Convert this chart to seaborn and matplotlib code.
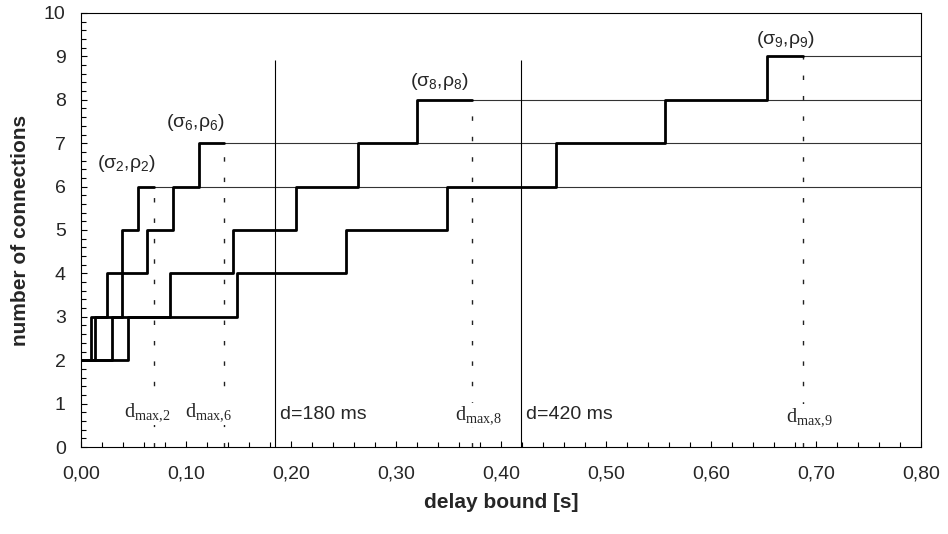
import numpy as np
import pandas as pd
import matplotlib
matplotlib.use('Agg')
import matplotlib.pyplot as plt
from matplotlib.ticker import MultipleLocator
import seaborn as sns

# step curves: delay bound [s] where the number of connections goes up, last point = d_max
x_s2 = [0.0, 0.0092, 0.0244, 0.0387, 0.0546, 0.0698]
y_s2 = [2, 3, 4, 5, 6, 6]
x_s6 = [0.0, 0.0133, 0.0387, 0.0632, 0.0873, 0.1127, 0.1359]
y_s6 = [2, 3, 4, 5, 6, 7, 7]
x_s8 = [0.0, 0.0298, 0.0848, 0.1444, 0.2044, 0.2641, 0.3197, 0.372]
y_s8 = [2, 3, 4, 5, 6, 7, 8, 8]
x_s9 = [0.0, 0.0451, 0.1489, 0.252, 0.349, 0.4524, 0.5562, 0.653, 0.6873]
y_s9 = [2, 3, 4, 5, 6, 7, 8, 9, 9]

curve_keys = ['2', '6', '8', '9']
d_max = [0.0698, 0.1359, 0.372, 0.6873]
n_max = [6, 7, 8, 9]

d_limits = [0.1844, 0.419]
d_limit_labels = ['d=180 ms', 'd=420 ms']

x_ticks = [0.0, 0.1, 0.2, 0.3, 0.4, 0.5, 0.6, 0.7, 0.8]
x_ticklabels = ['0,00', '0,10', '0,20', '0,30', '0,40', '0,50', '0,60', '0,70', '0,80']
y_ticks = list(range(11))

# annotation anchors (data coords)
sigma_pos = [(0.015, 6.54), (0.081, 7.47), (0.313, 8.42), (0.643, 9.39)]
dmax_pos = [(0.041, 0.80), (0.099, 0.80), (0.356, 0.74), (0.671, 0.70)]
dlim_pos = [(0.190, 0.74), (0.424, 0.74)]


def build_frame():
    parts = []
    for key, xs, ys in zip(curve_keys, [x_s2, x_s6, x_s8, x_s9], [y_s2, y_s6, y_s8, y_s9]):
        parts.append(pd.DataFrame({'delay': xs, 'conn': ys, 'curve': key}))
    return pd.concat(parts, ignore_index=True)


def main():
    sns.set_style('ticks')
    plt.rcParams['font.family'] = ['Liberation Sans', 'DejaVu Sans']
    plt.rcParams['mathtext.fontset'] = 'custom'
    plt.rcParams['mathtext.rm'] = 'Liberation Serif'
    plt.rcParams['mathtext.sf'] = 'Liberation Sans'
    plt.rcParams['mathtext.it'] = 'Liberation Sans'

    df = build_frame()

    fig = plt.figure(figsize=(9.48, 5.34), dpi=100)
    ax = fig.add_axes([0.0854, 0.1629, 0.8861, 0.8128])

    # thin continuation lines and dashed d_max markers
    ax.hlines(n_max, d_max, 0.8, color='#333333', lw=0.8, zorder=1)
    ax.vlines(d_max, 0, n_max, color='#222222', lw=1.0, linestyles=(0, (3.2, 11.5)), zorder=1)
    ax.vlines(d_limits, 0, 8.92, color='black', lw=0.8, zorder=1)

    sns.lineplot(data=df, x='delay', y='conn', units='curve', estimator=None,
                 color='black', lw=2.0, drawstyle='steps-post', sort=False,
                 legend=False, ax=ax, zorder=3)

    for key, (sx, sy) in zip(curve_keys, sigma_pos):
        ax.text(sx, sy, r'($\sigma_\mathsf{%s}$,$\rho_\mathsf{%s}$)' % (key, key),
                fontsize=14, ha='left', va='center')
    for key, (dx, dy) in zip(curve_keys, dmax_pos):
        ax.text(dx, dy, r'$\mathrm{d_{max{,}%s}}$' % key, fontsize=14.5,
                ha='left', va='center', zorder=2,
                bbox=dict(facecolor='white', edgecolor='none', pad=1))
    for lab, (lx, ly) in zip(d_limit_labels, dlim_pos):
        ax.text(lx, ly, lab, fontsize=14, ha='left', va='center')

    ax.set_xlim(0, 0.8)
    ax.set_ylim(0, 10)
    ax.set_xticks(x_ticks)
    ax.set_xticklabels(x_ticklabels)
    ax.set_yticks(y_ticks)
    ax.xaxis.set_minor_locator(MultipleLocator(0.02))
    ax.yaxis.set_minor_locator(MultipleLocator(0.2))
    ax.tick_params(which='both', direction='in', color='black', labelsize=14)
    ax.tick_params(which='major', length=4, width=0.8)
    ax.tick_params(which='minor', length=3.5, width=0.8)
    ax.tick_params(axis='x', which='major', pad=13)
    ax.tick_params(axis='y', which='major', pad=11)
    for s in ax.spines.values():
        s.set_color('black')
        s.set_linewidth(0.8)

    ax.set_xlabel('delay bound [s]', fontsize=15, fontweight='bold', labelpad=8)
    ax.set_ylabel('number of connections', fontsize=15, fontweight='bold', labelpad=10)

    fig.savefig('out.png', dpi=100)
    plt.close(fig)


if __name__ == '__main__':
    main()
